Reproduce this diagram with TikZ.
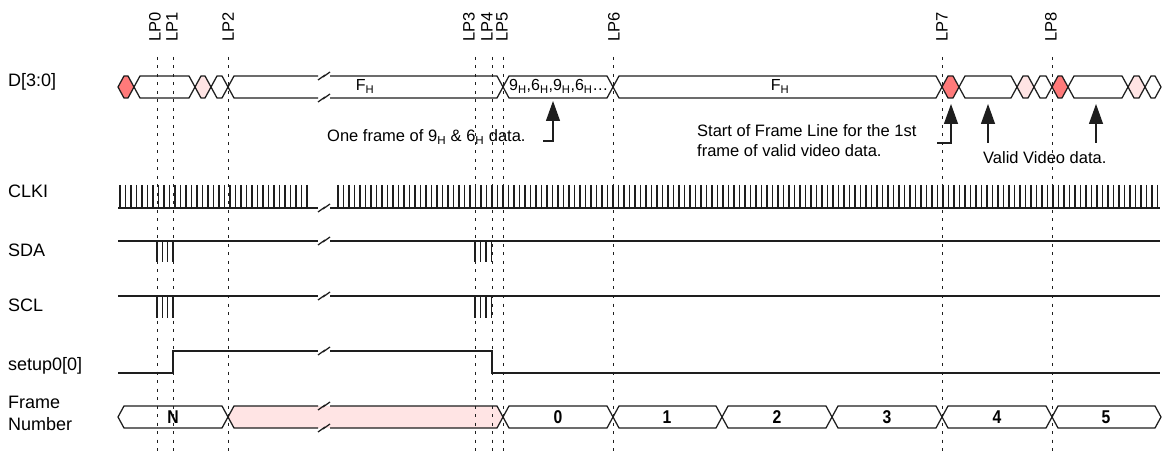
\documentclass[tikz,border=0pt]{standalone}
\usepackage{fontspec}
\setmainfont{Liberation Sans}
\usepackage{graphicx}
\usetikzlibrary{arrows.meta}
\definecolor{hexred}{RGB}{255,122,122}
\definecolor{hexpink}{RGB}{255,228,228}
\definecolor{ink}{RGB}{30,30,30}
\newcommand\hexseg[4]{\draw[sig,#4] (#1,#3) -- ({#1+6},{#3-11}) -- ({#2-6},{#3-11}) -- (#2,#3) -- ({#2-6},{#3+11}) -- ({#1+6},{#3+11}) -- cycle;}
\newcommand\brk[2]{\draw[sig] ({#1-6},{#2+4}) -- ({#1+1},{#2-1}) -- ({#1-1},{#2+1}) -- ({#1+6},{#2-4});}
\begin{document}
\begin{tikzpicture}[x=1pt,y=-1pt,
  sig/.style={line width=1.25pt, draw=ink, line join=miter},
  tick/.style={line width=1.05pt, draw=ink},
  lp/.style={draw=ink, line width=0.9pt, dash pattern=on 3pt off 5.5pt},
  lplabel/.style={rotate=90, anchor=west, font=\fontsize{16.5}{18}\selectfont, inner sep=0pt},
  rowlabel/.style={anchor=west, font=\fontsize{18}{22}\selectfont, inner sep=0pt, align=left},
  bustext/.style={font=\fontsize{16}{18}\selectfont, inner sep=0pt},
  note/.style={font=\fontsize{16.5}{20}\selectfont, inner sep=0pt, anchor=base west},
  num/.style={font=\bfseries\fontsize{18.5}{18}\selectfont, inner sep=0pt, anchor=base},
  redfill/.style={fill=hexred},
  pinkfill/.style={fill=hexpink},
  ann/.style={line width=1.25pt, draw=ink, -{Triangle[width=14pt,length=20pt]}}]
\useasboundingbox (0,0) rectangle (1164,454);
\fill[white] (0,0) rectangle (1164,454);

% row labels
\node[rowlabel] (lD) at (8,82) {D[3:0]};
\node[rowlabel] (lC) at (8,191) {CLKI};
\node[rowlabel] (lSDA) at (8,250) {SDA};
\node[rowlabel] (lSCL) at (8,305) {SCL};
\node[rowlabel] (lsu) at (8,366) {setup0[0]};
\node[rowlabel] (lFN) at (8,413) {Frame\\Number};

% D[3:0]
\hexseg{118}{134}{87}{redfill}
\hexseg{134}{195}{87}{}
\hexseg{195}{211}{87}{pinkfill}
\hexseg{211}{228}{87}{}
\draw[sig] (318,76) -- (234,76) -- (228,87) -- (234,98) -- (318,98);
\draw[sig] (330,76) -- (497,76) -- (503,87) -- (497,98) -- (330,98);
\brk{324}{76}
\brk{324}{98}
\hexseg{503}{613}{87}{}
\hexseg{613}{942}{87}{}
\hexseg{942}{959}{87}{redfill}
\hexseg{959}{1017}{87}{}
\hexseg{1017}{1034}{87}{pinkfill}
\hexseg{1034}{1052}{87}{}
\hexseg{1052}{1068}{87}{redfill}
\hexseg{1068}{1128}{87}{}
\hexseg{1128}{1145}{87}{pinkfill}
\hexseg{1145}{1161}{87}{}
\node[bustext, anchor=base] (fh1) at (365,90.5) {F\textsubscript{H}};
\node[bustext, anchor=base west] (d96) at (509,90.5) {9\textsubscript{H},6\textsubscript{H},9\textsubscript{H},6\textsubscript{H}\ldots};
\node[bustext, anchor=base] (fh2) at (780,90.5) {F\textsubscript{H}};

% CLKI
\draw[sig] (118,208) -- (318,208);
\draw[sig] (330,208) -- (1160,208);
\brk{324}{208}
\foreach \i in {0,...,34} \draw[tick] ({120+\i*5.5},185) -- ({120+\i*5.5},208);
\foreach \i in {0,...,149} \draw[tick] ({338+\i*5.5},185) -- ({338+\i*5.5},208);

% SDA
\draw[sig] (118,241) -- (318,241);
\draw[sig] (330,241) -- (1160,241);
\brk{324}{241}
\foreach \x in {157,162.3,167.7,173,475,480.5,486,491.7} \draw[tick] (\x,241) -- (\x,262);

% SCL
\draw[sig] (118,296) -- (318,296);
\draw[sig] (330,296) -- (1160,296);
\brk{324}{296}
\foreach \x in {157,162.3,167.7,173,475,480.5,486,491.7} \draw[tick] (\x,296) -- (\x,318);

% setup0[0]
\draw[sig] (118,373) -- (173,373) -- (173,351) -- (318,351);
\draw[sig] (330,351) -- (492,351) -- (492,373) -- (1160,373);
\brk{324}{351}

% Frame Number
\hexseg{118}{228}{417}{}
\fill[hexpink] (228,417) -- (234,406) -- (497,406) -- (503,417) -- (497,428) -- (234,428) -- cycle;
\draw[sig] (318,406) -- (234,406) -- (228,417) -- (234,428) -- (318,428);
\draw[sig] (330,406) -- (497,406) -- (503,417) -- (497,428) -- (330,428);
\brk{324}{406}
\brk{324}{428}
\hexseg{503}{613}{417}{}
\hexseg{613}{722}{417}{}
\hexseg{722}{832}{417}{}
\hexseg{832}{942}{417}{}
\hexseg{942}{1052}{417}{}
\hexseg{1052}{1161}{417}{}
\node[num] (fN) at (173,423.5) {\scalebox{0.85}[1]{N}};
\node[num] (f0) at (558,423.5) {\scalebox{0.85}[1]{0}};
\node[num] (f1) at (667,423.5) {\scalebox{0.85}[1]{1}};
\node[num] (f2) at (777,423.5) {\scalebox{0.85}[1]{2}};
\node[num] (f3) at (887,423.5) {\scalebox{0.85}[1]{3}};
\node[num] (f4) at (997,423.5) {\scalebox{0.85}[1]{4}};
\node[num] (f5) at (1106,423.5) {\scalebox{0.85}[1]{5}};

% LP lines and labels
\foreach \x in {157,173,228,475,492,503,613,942,1052} \draw[lp] (\x,57) -- (\x,452);
\node[lplabel] (lp0) at (155,42) {LP0};
\node[lplabel] (lp1) at (172,42) {LP1};
\node[lplabel] (lp2) at (228,42) {LP2};
\node[lplabel] (lp3) at (469,42) {LP3};
\node[lplabel] (lp4) at (487,42) {LP4};
\node[lplabel] (lp5) at (502,42) {LP5};
\node[lplabel] (lp6) at (614,42) {LP6};
\node[lplabel] (lp7) at (942,42) {LP7};
\node[lplabel] (lp8) at (1051,42) {LP8};

% annotations
\node[note] (n1) at (327,142) {One frame of 9\textsubscript{H} \& 6\textsubscript{H} data.};
\node[note] (n2a) at (697,137) {Start of Frame Line for the 1st};
\node[note] (n2b) at (697,157) {frame of valid video data.};
\node[note] (n3) at (983,164) {Valid Video data.};
\coordinate (a1s) at (543,141);
\coordinate (a1c) at (553,141);
\coordinate (a1t) at (553,101);
\draw[ann] (a1s) -- (a1c) -- (a1t);
\coordinate (a2s) at (937,143);
\coordinate (a2c) at (951,143);
\coordinate (a2t) at (951,104);
\draw[ann] (a2s) -- (a2c) -- (a2t);
\coordinate (a3s) at (988,143);
\coordinate (a3t) at (988,104);
\draw[ann] (a3s) -- (a3t);
\coordinate (a4s) at (1096,143);
\coordinate (a4t) at (1096,104);
\draw[ann] (a4s) -- (a4t);
\end{tikzpicture}
\end{document}
